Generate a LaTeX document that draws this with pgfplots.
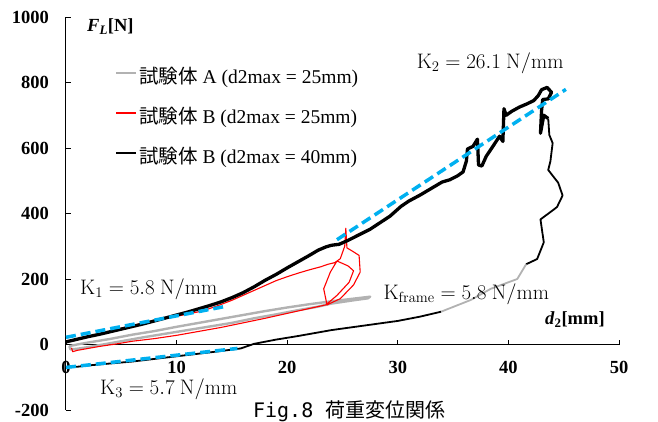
\RequirePackage{fix-cm}
\documentclass[border=0pt]{standalone}
\usepackage[no-math]{fontspec}
\setmainfont{Liberation Serif}
\newfontfamily\jp{Noto Sans CJK JP}
\newfontfamily\mono{DejaVu Sans Mono}
\usepackage{pgfplots}
\pgfplotsset{compat=1.18}
\definecolor{cblue}{RGB}{0,176,240}
\definecolor{cgray}{RGB}{178,178,178}
\newcommand{\lmf}{\fontsize{21}{25}\selectfont}
\begin{document}
\begin{tikzpicture}
\path[use as bounding box] (-66pt,-11pt) rectangle (592pt,410pt);
\begin{axis}[
  at={(0pt,0pt)}, anchor=south west,
  scale only axis, width=553pt, height=393pt,
  xmin=0, xmax=50, ymin=-200, ymax=1000,
  axis x line=middle, axis y line=left,
  axis line style={-, line width=1pt},
  xtick={0,10,...,50}, xticklabels={0,10,20,30,40,50},
  ytick={-200,0,...,1000}, yticklabels={-200,0,200,400,600,800,1000},
  minor tick num=0,
  tick align=inside, major tick length=5pt, tick style={black, line width=0.8pt},
  hide obscured x ticks=false, hide obscured y ticks=false,
  ticklabel style={font=\fontsize{18.5}{20}\selectfont\bfseries, inner sep=0pt},
  xticklabel style={anchor=north, yshift=-16pt},
  yticklabel style={anchor=east, xshift=-17pt},
  clip=false,
  legend cell align=left,
  legend style={at={(axis cs:4.43,840)}, anchor=north west, draw=none, fill=none,
    inner sep=0pt, row sep=21pt, column sep=2pt,
    font=\fontsize{19.5}{23}\selectfont,
    nodes={inner sep=0pt, text height=14pt, text depth=5pt}},
  legend image code/.code={\draw[#1, line width=2pt] (0pt,6pt) -- (20pt,6pt);},
]
% Specimen A (d2max = 25mm)
\addplot[cgray, line width=2.4pt, line join=round] coordinates {
(0.3,-5) (1,0) (2,6) (4,17) (6,30) (8,41) (10,54) (12,66) (14,78) (16,90) (18,102)
(20,113) (22,123) (24,132) (26,140) (27.5,146) (27.3,141) (26,135) (24,125) (22.7,115)
(21,105) (19,92) (17,80) (15,66) (13,55) (11,44) (9,33) (7,22) (5,10) (3,-2) (2,-8)
(1,-13) (0.4,-15) (0.3,-5)};
\addlegendentry{{\jp 試験体} A (d2max = 25mm)}
% Specimen B (d2max = 25mm)
\addplot[red, line width=1.1pt, line join=round] coordinates {
(0.2,8) (1,14) (2,22) (3,32) (4,40) (5,50) (6,58) (7,66) (8,73) (9,80) (10,86) (11,93)
(12,100) (13,110) (14,122) (15,135) (16,150) (17,165) (18,180) (19,195) (20,207) (21,218)
(22,228) (23,237) (23.7,245) (24.3,250) (24.8,262) (25.2,300) (25.3,355) (25.4,295)
(25.9,285) (26.5,272) (26.6,221) (26,182) (24.8,140) (23.6,121) (23.3,170) (23.9,221)
(24.5,255) (25.5,240) (26,225) (25.6,190) (24.5,150) (23.5,121) (22,110) (20,95) (18,80)
(16,66) (14,52) (12,40) (10,28) (8,18) (6,10) (4.6,2) (3,-6) (2,-12) (1,-18) (0.6,-22)
(0.5,-10)};
\addlegendentry{{\jp 試験体} B (d2max = 25mm)}
% Specimen B (d2max = 40mm) loading
\addplot[black, line width=3.3pt, line join=round] coordinates {
(0,8) (0.5,12) (1,16) (1.5,20) (2,24) (3,31) (4,39) (5,47) (6,55) (7,63) (8,72) (9,81)
(10,90) (11,99) (12,109) (13,119) (14,130) (15,143) (16,158) (17,176) (18,196) (19,214)
(20,234) (21,253) (22,272) (22.8,288) (23.5,298) (24,303) (24.7,306) (25.5,318)
(26.5,335) (27.5,352) (28.4,372) (29.3,392) (30.3,422) (31,438) (32,456) (33,476)
(34,496) (34.7,503) (35.4,515) (35.9,527) (36.2,560) (36.3,597) (36.8,605) (37.2,627)
(37.3,548) (37.6,545) (38,575) (38.5,600) (39.2,636) (39.5,620) (39.6,720) (39.8,700)
(40.3,712) (41,725) (41.7,735) (42.3,745) (42.7,760) (43,778) (43.5,785) (43.9,770)
(43.6,750) (43.1,748) (43.0,715) (42.9,645) (43.2,700) (43.6,690)};
\addlegendentry{{\jp 試験体} B (d2max = 40mm)}
% unloading
\addplot[black, line width=1.8pt, line join=round, forget plot] coordinates {
(43.6,690) (43.7,640) (44,615) (43.8,560) (43.6,533) (44.5,494) (44.9,455) (44.4,420)
(44.1,412) (42.9,382) (43.2,312) (42.6,261) (41.6,245)};
\addplot[cgray, line width=1.8pt, line join=round, forget plot] coordinates {
(41.6,245) (40.8,200) (38.4,170) (36.6,136) (33.9,100)};
\addplot[black, line width=1.8pt, line join=round, forget plot] coordinates {
(33.9,100) (32,85) (30,72) (27,58) (24,44) (21,26) (19,15) (17,2) (15.8,-12) (14,-20)
(12,-28) (10,-36) (8,-44) (6,-52) (4,-58) (2,-64) (1,-68) (0,-70)};
% stiffness lines
\addplot[cblue, line width=3.5pt, dash pattern=on 10pt off 5pt, forget plot] coordinates {(0,22) (14.2,115)};
\addplot[cblue, line width=3.5pt, dash pattern=on 10pt off 5pt, forget plot] coordinates {(24.5,320) (45.2,779)};
\addplot[cblue, line width=3.5pt, dash pattern=on 10pt off 5pt, forget plot] coordinates {(0,-70) (15.5,-12)};
% labels
\node[anchor=base west, inner sep=0pt, font=\fontsize{18.5}{22}\selectfont\bfseries] at (axis cs:1.9,956) {\textit{F}\textsubscript{\textit{L}}[N]};
\node[anchor=base west, inner sep=0pt, font=\fontsize{18.5}{22}\selectfont\bfseries] at (axis cs:43.3,60) {\textit{d}\textsubscript{2}[mm]};
\node[anchor=base west, inner sep=0pt, font=\lmf] at (axis cs:31.7,844) {$\mathrm{K_2 = 26.1\ N/mm}$};
\node[anchor=base west, inner sep=0pt, font=\lmf] at (axis cs:1.27,154) {$\mathrm{K_1 = 5.8\ N/mm}$};
\node[anchor=base west, inner sep=0pt, font=\lmf] at (axis cs:3.07,-153) {$\mathrm{K_3 = 5.7\ N/mm}$};
\node[anchor=base west, inner sep=0pt, font=\lmf] at (axis cs:28.7,136.5) {$\mathrm{K_{frame} = 5.8\ N/mm}$};
\node[anchor=base west, inner sep=0pt, font=\fontsize{20}{24}\selectfont] at (axis cs:16.9,-223) {{\mono Fig.8 }{\jp 荷重変位関係}};
\end{axis}
\end{tikzpicture}
\end{document}
